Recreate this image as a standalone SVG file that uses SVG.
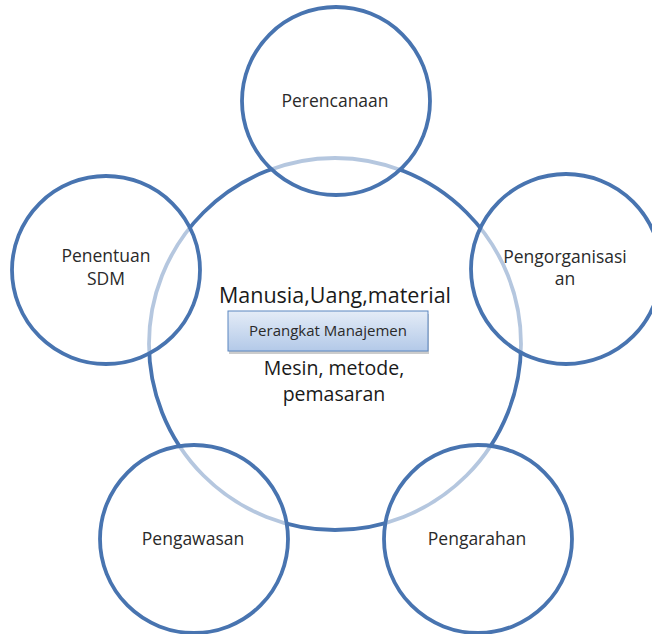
<svg xmlns="http://www.w3.org/2000/svg" width="652" height="634" viewBox="0 0 652 634">
<style>
.ring{fill:#ffffff;fill-opacity:0.6;stroke:#4874b0;stroke-width:3.8}
.big{fill:#ffffff;stroke:#4874b0;stroke-width:3.8}
.lbl{font-family:"Open Sans","Liberation Sans",sans-serif;font-size:17.5px;fill:#2a2a2a;text-anchor:middle}
.ctr{font-family:"Open Sans","Liberation Sans",sans-serif;font-size:19.5px;fill:#1a1a1a;text-anchor:middle}
</style>
<defs>
<linearGradient id="boxg" x1="0" y1="0" x2="0" y2="1">
<stop offset="0" stop-color="#e4ecf7"/>
<stop offset="1" stop-color="#b3c9e8"/>
</linearGradient>
</defs>
<rect width="652" height="634" fill="#ffffff"/>
<g id="center">
<circle class="big" cx="335" cy="344" r="186"/>
</g>
<g id="connectors"></g>
<g id="perencanaan">
<circle class="ring" cx="336" cy="101" r="94"/>
<text class="lbl" x="335" y="107">Perencanaan</text>
</g>
<g id="penentuan-sdm">
<circle class="ring" cx="106" cy="270" r="94"/>
<text class="lbl" x="106" y="262">Penentuan</text>
<text class="lbl" x="106" y="285">SDM</text>
</g>
<g id="pengorganisasian">
<circle class="ring" cx="566" cy="269" r="95"/>
<text class="lbl" x="565" y="263">Pengorganisasi</text>
<text class="lbl" x="565" y="285">an</text>
</g>
<g id="pengawasan">
<circle class="ring" cx="194" cy="539" r="94"/>
<text class="lbl" x="193" y="545">Pengawasan</text>
</g>
<g id="pengarahan">
<circle class="ring" cx="478" cy="539" r="94"/>
<text class="lbl" x="477" y="545">Pengarahan</text>
</g>
<g id="center-content">
<text class="ctr" x="335" y="303" style="font-size:21.5px">Manusia,Uang,material</text>
<rect x="229" y="314" width="200" height="40" fill="#999" opacity="0.5"/>
<rect x="228" y="311" width="200" height="40" fill="url(#boxg)" stroke="#5b86c0" stroke-width="1"/>
<text class="lbl" x="328" y="336" style="font-size:15px">Perangkat Manajemen</text>
<text class="ctr" x="334" y="375">Mesin, metode,</text>
<text class="ctr" x="334" y="401">pemasaran</text>
</g>
</svg>
